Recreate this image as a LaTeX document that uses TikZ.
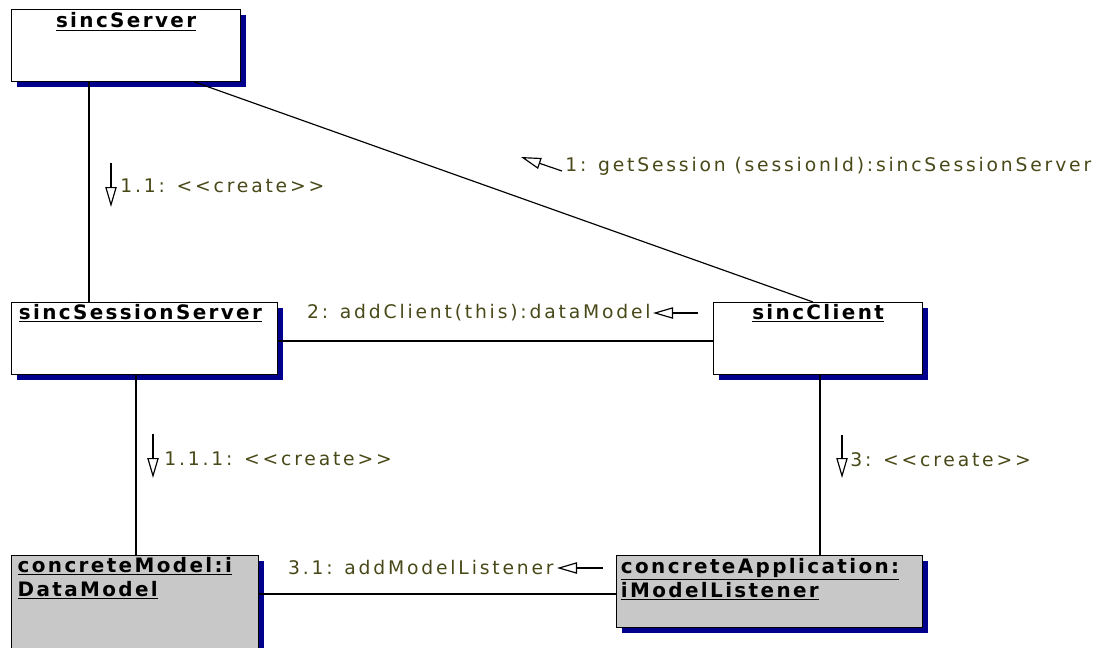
\documentclass[tikz,border=0pt]{standalone}
\usepackage{fontspec}
\setmainfont{DejaVu Sans}
\newfontfamily\msgfont{DejaVu Sans}[LetterSpace=15]
\newfontfamily\objfont{DejaVu Sans}[LetterSpace=12]
\usetikzlibrary{arrows.meta,shadows}

\definecolor{msgtext}{RGB}{72,72,24}
\definecolor{shadowblue}{RGB}{0,0,140}
\definecolor{objgray}{RGB}{200,200,200}

\begin{document}
\begin{tikzpicture}[x=0.03cm,y=-0.03cm,
  obj/.style={draw, line width=1pt, fill=white, anchor=north west, minimum height=2.16cm,
    drop shadow={shadow xshift=0.15cm, shadow yshift=-0.15cm, fill=shadowblue, opacity=1}},
  objtitle/.style={inner sep=0pt, align=left, font=\objfont\bfseries\fontsize{17}{20.5}\selectfont},
  msg/.style={text=msgtext, inner sep=1pt, font=\msgfont\fontsize{16}{18}\selectfont},
  msgarrow/.style={-{Triangle[open, length=0.6cm, width=0.34cm]}, line width=1pt}]
\useasboundingbox (0,0) rectangle (1103,647);

\node[obj, minimum width=6.87cm,
  label={[objtitle, anchor=north, yshift=-3pt]north:\underline{sincServer}}] (1) at (11,9) {};

\node[obj, minimum width=7.98cm,
  label={[objtitle, anchor=north west, xshift=6.5pt, yshift=-2pt]north west:\underline{sincSessionServer}}] (2) at (11,302) {};

\node[obj, minimum width=6.27cm,
  label={[objtitle, anchor=north, yshift=-2pt]north:\underline{sincClient}}] (3) at (713,302) {};

\node[obj, fill=objgray, minimum width=7.41cm, minimum height=3.3cm,
  label={[objtitle, anchor=north west, xshift=5.5pt, yshift=-2pt]north west:\underline{concreteModel:i}\\\underline{DataModel}}] (4) at (11,555) {};

\node[obj, fill=objgray, minimum width=9.18cm,
  label={[objtitle, anchor=north west, xshift=4pt, yshift=-2.5pt]north west:\underline{concreteApplication:}\\\underline{iModelListener}}] (5) at (616,555) {};

\draw[line width=1pt] (1.south -| 89,0) -- (2.north -| 89,0);
\draw[line width=1pt] (1.south -| 195,0) -- (3.north -| 813,0);
\draw[line width=1pt] (2.east |- 0,341) -- (3.west |- 0,341);
\draw[line width=1pt] (2.south -| 136,0) -- (4.north -| 136,0);
\draw[line width=1pt] (3.south -| 820,0) -- (5.north -| 820,0);
\draw[line width=1pt] (4.east |- 0,594) -- (5.west |- 0,594);

\coordinate (a11) at (111,163);
\coordinate (b11) at (111,207);
\draw[msgarrow] (a11) -- (b11);
\node[msg, anchor=west] (m11) at (119,186) {1.1: <<create>>};

\coordinate (a1) at (562,171);
\coordinate (b1) at (521,157);
\draw[msgarrow] (a1) -- (b1);
\node[msg, anchor=west] (m1) at (564,166) {1: getSession (sessionId):sincSessionServer};

\coordinate (a2) at (698,313);
\coordinate (b2) at (653,313);
\draw[msgarrow] (a2) -- (b2);
\node[msg, anchor=east] (m2) at (652,313) {2: addClient(this):dataModel};

\coordinate (a111) at (153,434);
\coordinate (b111) at (153,478);
\draw[msgarrow] (a111) -- (b111);
\node[msg, anchor=west] (m111) at (163,459) {1.1.1: <<create>>};

\coordinate (a3) at (842,435);
\coordinate (b3) at (842,478);
\draw[msgarrow] (a3) -- (b3);
\node[msg, anchor=west] (m3) at (849,460) {3: <<create>>};

\coordinate (a31) at (603,568);
\coordinate (b31) at (557,568);
\draw[msgarrow] (a31) -- (b31);
\node[msg, anchor=east] (m31) at (555,568) {3.1: addModelListener};

\end{tikzpicture}
\end{document}
